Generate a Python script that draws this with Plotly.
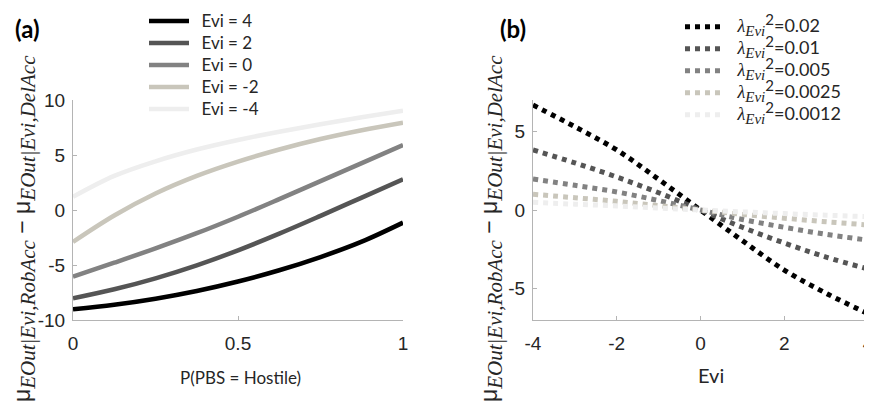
import plotly.graph_objects as go

# ---------------- data ----------------
p_hostile = [0, 0.125, 0.25, 0.375, 0.5, 0.625, 0.75, 0.875, 1]
evi_labels = ["Evi = 4", "Evi = 2", "Evi = 0", "Evi = -2", "Evi = -4"]
diff_evi4 = [-9.03, -8.61, -8.06, -7.36, -6.50, -5.48, -4.28, -2.88, -1.15]
diff_evi2 = [-8.03, -7.21, -6.21, -5.03, -3.67, -2.15, -0.53, 1.13, 2.79]
diff_evi0 = [-6.06, -4.79, -3.49, -2.11, -0.61, 0.99, 2.63, 4.26, 5.9]
diff_evim2 = [-2.9, -0.5, 1.5, 3.1, 4.4, 5.5, 6.45, 7.25, 7.94]
diff_evim4 = [1.2, 3.1, 4.43, 5.5, 6.37, 7.12, 7.8, 8.43, 9.03]

evi = [-4, -3, -2, -1, 0, 1, 2, 3, 4]
lam_labels = ["0.02", "0.01", "0.005", "0.0025", "0.0012"]
diff_l002 = [6.68, 5.3, 3.82, 1.95, 0, -1.95, -3.82, -5.3, -6.6]
diff_l001 = [3.82, 3.0, 2.1, 1.1, 0, -1.1, -2.1, -3.0, -3.75]
diff_l0005 = [1.97, 1.57, 1.15, 0.6, 0, -0.6, -1.1, -1.55, -1.92]
diff_l00025 = [1.0, 0.78, 0.55, 0.28, 0, -0.28, -0.52, -0.75, -0.95]
diff_l00012 = [0.49, 0.37, 0.26, 0.13, 0, -0.12, -0.23, -0.33, -0.43]

left_series = [diff_evi4, diff_evi2, diff_evi0, diff_evim2, diff_evim4]
right_series = [diff_l002, diff_l001, diff_l0005, diff_l00025, diff_l00012]
colors = ["#000000", "#555555", "#828282", "#c9c6bb", "#eeeeee"]

# the page body has an 8px default margin; lay out in window pixels
OFF = 8
W, H = 872 - OFF, 403 - OFF
def px(x):
    return (x - OFF) / W
def py(y):
    return (H - (y - OFF)) / H

fig = go.Figure()

for lab, ys, c in zip(evi_labels, left_series, colors):
    name = f"&nbsp;&nbsp;<span style=\"font-size:17px\">{lab}</span>"
    fig.add_trace(go.Scatter(x=p_hostile, y=ys, mode="lines", name=name,
                             line=dict(color=c, width=4.5, shape="spline"),
                             xaxis="x", yaxis="y", legend="legend"))

serif = "'Liberation Serif'"
for lab, ys, c in zip(lam_labels, right_series, colors):
    name = (f"&nbsp;&nbsp;<span style=\"font-size:18px\">"
            f"<span style=\"font-family:{serif};font-style:italic\">λ</span>"
            f"<sub><span style=\"font-family:{serif};font-style:italic;font-size:15px\">Evi</span></sub>"
            f"<sup><span style=\"font-size:15px\">2</span></sup>={lab}</span>")
    fig.add_trace(go.Scatter(x=evi, y=ys, mode="lines", name=name,
                             line=dict(color=c, width=5, dash="dot", shape="spline"),
                             xaxis="x2", yaxis="y2", legend="legend2"))

axis_common = dict(showline=True, linecolor="#b4b4b4", linewidth=1,
                   ticks="inside", ticklen=4, tickcolor="#b4b4b4",
                   showgrid=False, zeroline=False, automargin=False,
                   ticklabeloverflow="allow",
                   tickfont=dict(family="Liberation Sans", size=19, color="#262626"))

fig.update_layout(
    width=W, height=H,
    margin=dict(l=0, r=0, t=0, b=0, autoexpand=False),
    paper_bgcolor="white", plot_bgcolor="white",
    xaxis=dict(domain=[px(73), px(403)], range=[0, 1], anchor="y",
               tickvals=[0, 0.5, 1], ticktext=["0", "0.5", "1"],
               ticklabelstandoff=6, **axis_common),
    yaxis=dict(domain=[py(320), py(100)], range=[-10, 10], anchor="x",
               tickvals=[-10, -5, 0, 5, 10], ticktext=["-10", "-5", "0", "5", "10"],
               ticklabelstandoff=3, **axis_common),
    xaxis2=dict(domain=[px(533), px(868)], range=[-4, 4], anchor="y2",
                tickvals=[-4, -2, 0, 2, 4], ticktext=["-4", "-2", "0", "2", "4"],
                ticklabelstandoff=6, **axis_common),
    yaxis2=dict(domain=[py(320), py(100)], range=[-7, 7], anchor="x2",
                tickvals=[-5, 0, 5], ticktext=["-5", "0", "5"],
                ticklabelstandoff=3, **axis_common),
    legend=dict(x=px(144), y=py(5), xanchor="left", yanchor="top",
                bgcolor="rgba(0,0,0,0)", itemwidth=40, tracegroupgap=0,
                font=dict(family="Lato", size=14.6, color="#262626")),
    legend2=dict(x=px(680), y=py(3), xanchor="left", yanchor="top",
                 bgcolor="rgba(0,0,0,0)", itemwidth=40, tracegroupgap=0,
                 title=dict(text="&nbsp;", font=dict(size=6)),
                 font=dict(family="Lato", size=14.6, color="#262626")),
    showlegend=True,
)

sub = "font-family:'Liberation Serif';font-style:italic;font-size:21px"
ytitle = (f"μ<sub><span style=\"{sub}\">EOut|Evi,RobAcc</span></sub>"
          f" − μ<sub><span style=\"{sub}\">EOut|Evi,DelAcc</span></sub>")

annos = [
    dict(x=px(24), y=py(229), text=ytitle, textangle=-90,
         font=dict(family="Liberation Sans", size=23, color="#262626")),
    dict(x=px(491), y=py(229), text=ytitle, textangle=-90,
         font=dict(family="Liberation Sans", size=23, color="#262626")),
    dict(x=px(240), y=py(377), text="P(PBS = Hostile)",
         font=dict(family="Lato", size=17, color="#262626")),
    dict(x=px(711), y=py(375), text="Evi",
         font=dict(family="Lato", size=20, color="#262626")),
    dict(x=px(27), y=py(29), text="<b>(a)</b>",
         font=dict(family="Lato", size=24, color="#000000")),
    dict(x=px(513), y=py(29), text="<b>(b)</b>",
         font=dict(family="Lato", size=24, color="#000000")),
]
for a in annos:
    a.update(xref="paper", yref="paper", showarrow=False,
             xanchor="center", yanchor="middle")
fig.update_layout(annotations=annos)

fig.write_html("out.html")
